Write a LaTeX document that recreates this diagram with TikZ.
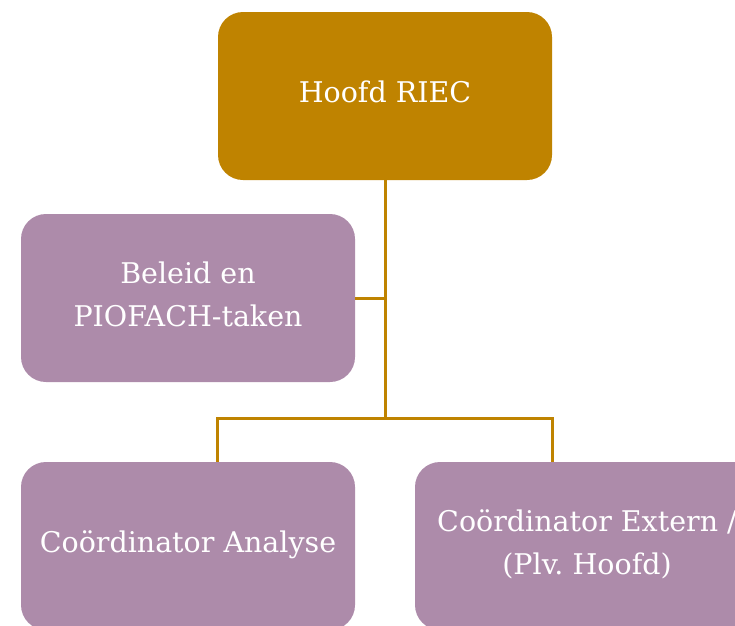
\documentclass[tikz,border=0pt]{standalone}
\usepackage{fontspec}
\setmainfont{DejaVu Serif}
\definecolor{riecgoud}{RGB}{191,131,0}
\definecolor{riecpaars}{RGB}{173,139,170}

\begin{document}
\begin{tikzpicture}[x=1pt,y=-1pt,
 blok/.style={rectangle,rounded corners=25pt,minimum width=334pt,minimum height=168pt,inner sep=0pt,align=center,text=white,text depth=8pt,font=\fontsize{28.5}{42.5}\selectfont},
 hoofdblok/.style={blok,fill=riecgoud},
 teamblok/.style={blok,fill=riecpaars},
 lijn/.style={riecgoud,line width=3pt}]
 \useasboundingbox (0,0) rectangle (735,625);
 \clip (0,0) rectangle (735,625);
 \node[hoofdblok] (hoofd) at (385,96) {Hoofd RIEC};
 \node[teamblok] (beleid) at (188,298) {Beleid en\\PIOFACH-taken};
 \node[teamblok] (analyse) at (188,546) {Coördinator Analyse};
 \node[teamblok,minimum width=344pt] (extern) at (587,546) {Coördinator Extern /\\(Plv.\ Hoofd)};
 \coordinate (split) at (385,418);
 \draw[lijn] (hoofd)--(split);
 \draw[lijn] (beleid.east)--(beleid.east -| split);
 \draw[lijn] (analyse.north -| hoofd.west) |- (split) -| (extern.north -| hoofd.east);
\end{tikzpicture}
\end{document}
